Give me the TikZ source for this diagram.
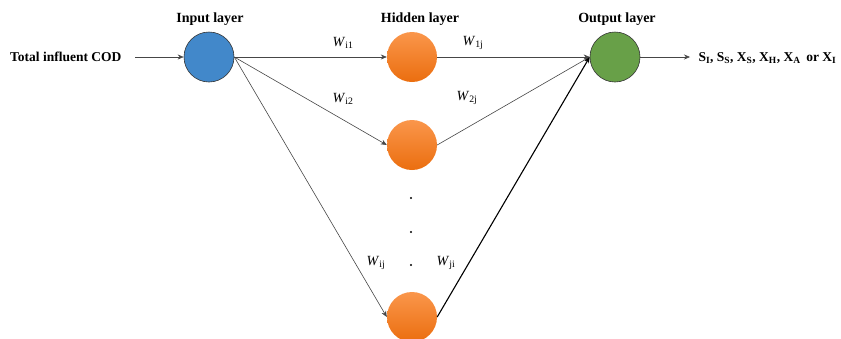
\documentclass[tikz,border=0pt]{standalone}
\usepackage{fontspec}
\setmainfont{Liberation Serif}
\usetikzlibrary{arrows.meta}
\definecolor{inblue}{RGB}{66,136,202}
\definecolor{orangetop}{RGB}{250,150,75}
\definecolor{orangebot}{RGB}{235,110,15}
\definecolor{outgreen}{RGB}{104,160,72}
\definecolor{edgegray}{RGB}{70,70,70}
\tikzset{
  neuron/.style={circle, minimum size=50pt, inner sep=0pt},
  inneuron/.style={neuron, fill=inblue, draw=black!80, line width=0.6pt},
  hidneuron/.style={neuron, top color=orangetop, bottom color=orangebot, draw=none},
  outneuron/.style={neuron, fill=outgreen, draw=black!80, line width=0.6pt},
  conn/.style={draw=edgegray, line width=0.6pt, -{Stealth[length=6pt,width=5pt]}},
  strongconn/.style={draw=black, line width=1.1pt, -{Stealth[length=6pt,width=5pt]}},
  head/.style={font=\fontsize{14}{16}\selectfont\bfseries},
  lbl/.style={font=\fontsize{13.5}{16}\selectfont\bfseries},
  wlbl/.style={font=\fontsize{14}{16}\selectfont},
  vdot/.style={circle, fill=black, inner sep=0pt, minimum size=2.2pt}
}
\newcommand{\wsub}[1]{\textit{W}\textsubscript{#1}}
\begin{document}
\begin{tikzpicture}[x=1pt,y=-1pt]
\useasboundingbox (0,0) rectangle (841,338);
% neurons
\node[inneuron] (in) at (209,57) {};
\node[hidneuron] (h1) at (412,57) {};
\node[hidneuron] (h2) at (412,145) {};
\node[hidneuron] (h3) at (412,317) {};
\node[outneuron] (out) at (615,57) {};
% headings
\node[head] (hin) at (210,19) {Input layer};
\node[head] (hhid) at (420,19) {Hidden layer};
\node[head] (hout) at (617,19) {Output layer};
% input / output labels
\node[lbl, anchor=east] (inlbl) at (125,57) {Total influent COD};
\node[lbl, anchor=west] (outlbl) at (695,58) {S\textsubscript{I}, S\textsubscript{S}, X\textsubscript{S}, X\textsubscript{H}, X\textsubscript{A}\, or X\textsubscript{I}};
\coordinate (inS) at (135,57);
\coordinate (outE) at (690,57);
% connectors
\draw[conn] (inS) -- (in.west);
\draw[conn] (out.east) -- (outE);
\draw[conn] (in.east) -- (h1.west);
\draw[conn] (in.east) -- (h2.west);
\draw[conn] (in.east) -- (h3.west);
\draw[conn] (h1.east) -- (out.west);
\draw[conn] (h2.east) -- (out.west);
\draw[strongconn] (h3.east) -- (out.west);
% weights
\node[wlbl] (w1) at (343,43) {\wsub{i1}};
\node[wlbl] (w2) at (473,43) {\wsub{1j}};
\node[wlbl] (w3) at (343,99) {\wsub{i2}};
\node[wlbl] (w4) at (467,98) {\wsub{2j}};
\node[wlbl] (w5) at (376,263) {\wsub{ij}};
\node[wlbl] (w6) at (446,263) {\wsub{ji}};
% dots
\node[vdot] (d1) at (411,198) {};
\node[vdot] (d2) at (411,232) {};
\node[vdot] (d3) at (411,265) {};
\end{tikzpicture}
\end{document}
